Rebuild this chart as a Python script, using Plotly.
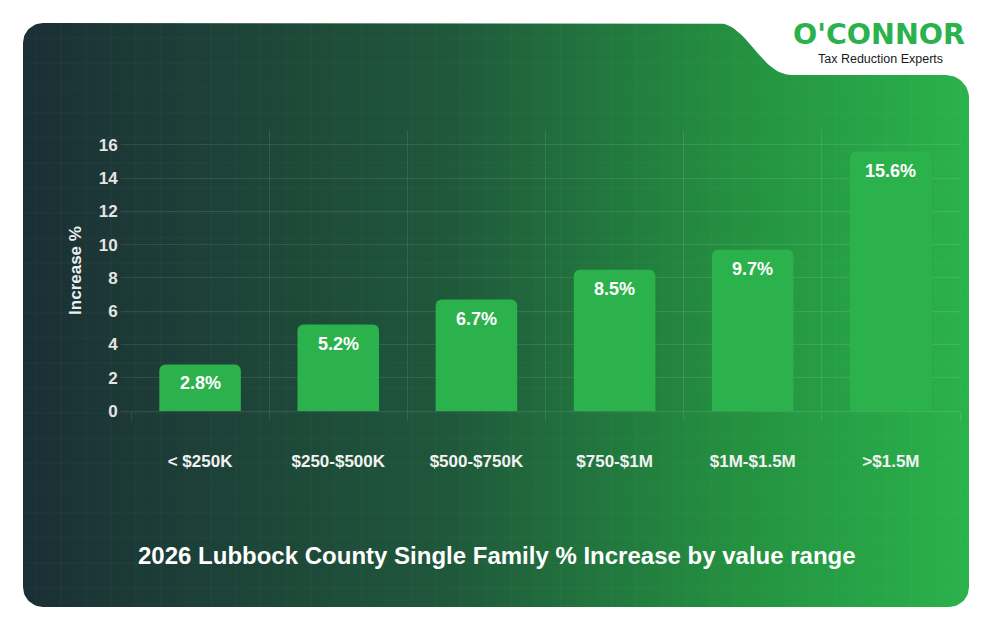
import numpy as np
import plotly.graph_objects as go

# ---- data ----
categories = ["< $250K", "$250-$500K", "$500-$750K", "$750-$1M", "$1M-$1.5M", ">$1.5M"]
increase_pct = [2.8, 5.2, 6.7, 8.5, 9.7, 15.6]
bar_labels = ["2.8%", "5.2%", "6.7%", "8.5%", "9.7%", "15.6%"]
y_ticks = [0, 2, 4, 6, 8, 10, 12, 14, 16]
title_text = "2026 Lubbock County Single Family % Increase by value range"
y_title = "Increase %"

W, H = 994, 632
FONT = "Liberation Sans, Arial, sans-serif"


# ---- decorative card outline (page pixel coords) ----
def arc(cx, cy, r, a0, a1, n=16):
    t = np.linspace(np.radians(a0), np.radians(a1), n)
    return list(cx + r * np.cos(t)), list(cy + r * np.sin(t))


def bez(p0, p1, p2, p3, n=30):
    t = np.linspace(0, 1, n)
    x = (1 - t) ** 3 * p0[0] + 3 * (1 - t) ** 2 * t * p1[0] + 3 * (1 - t) * t ** 2 * p2[0] + t ** 3 * p3[0]
    y = (1 - t) ** 3 * p0[1] + 3 * (1 - t) ** 2 * t * p1[1] + 3 * (1 - t) * t ** 2 * p2[1] + t ** 3 * p3[1]
    return list(x), list(y)


L, T, R, B, r = 23, 23, 969, 607, 20
NY, R2 = 75, 23
px, py = [], []
def add(seg):
    px.extend(seg[0]); py.extend(seg[1])

add(([L + r, 717], [T, T]))
add(bez((717, T), (748, T), (760, NY), (792, NY)))
add(([R - R2], [NY]))
add(arc(R - R2, NY + R2, R2, -90, 0))
add(([R], [B - r]))
add(arc(R - r, B - r, r, 0, 90))
add(([L + r], [B]))
add(arc(L + r, B - r, r, 90, 180))
add(([L], [T + r]))
add(arc(L + r, T + r, r, 180, 270))

fig = go.Figure()
fig.add_trace(go.Scatter(
    x=px, y=py, mode="lines", fill="toself", line=dict(width=0),
    fillgradient=dict(type="horizontal", colorscale=[
        [0.0, "#1b2f35"], [0.45, "#1f583b"], [0.75, "#249040"], [1.0, "#2ab24c"]]),
    hoverinfo="skip", showlegend=False, xaxis="x", yaxis="y"))

# faint background grid
gx, gy = [], []
for v in np.arange(36, R, 25):
    gx += [v, v, None]; gy += [T, B, None]
for v in np.arange(38, B, 25):
    gx += [L, R, None]; gy += [v, v, None]
fig.add_trace(go.Scatter(x=gx, y=gy, mode="lines",
                         line=dict(color="rgba(255,255,255,0.035)", width=1),
                         hoverinfo="skip", showlegend=False, xaxis="x", yaxis="y"))

# ---- bars ----
fig.add_trace(go.Bar(
    x=categories, y=increase_pct, width=0.59,
    marker=dict(color="#2cb24c", cornerradius=6, line=dict(width=0)),
    showlegend=False, xaxis="x2", yaxis="y2", hoverinfo="skip"))

for c, v, t in zip(categories, increase_pct, bar_labels):
    fig.add_annotation(x=c, y=v, xref="x2", yref="y2", text=t, showarrow=False,
                       yanchor="top", yshift=-7,
                       font=dict(family=FONT, size=18, color="white", weight="bold"))

grid = "rgba(255,255,255,0.10)"
fig.update_layout(
    width=W, height=H,
    margin=dict(l=0, r=0, t=0, b=0),
    paper_bgcolor="white", plot_bgcolor="rgba(0,0,0,0)",
    xaxis=dict(domain=[0, 1], range=[0, W], visible=False, fixedrange=True),
    yaxis=dict(domain=[0, 1], range=[H, 0], visible=False, fixedrange=True),
    xaxis2=dict(domain=[131 / W, 960 / W], anchor="y2", type="category",
                range=[-0.5, 5.5], tickson="boundaries", showgrid=True, gridcolor=grid,
                ticks="outside", ticklen=9, tickcolor=grid, showline=False, zeroline=False,
                ticklabelstandoff=38, automargin=False,
                tickfont=dict(family=FONT, size=17, color="#f2f2f2", weight="bold")),
    yaxis2=dict(domain=[1 - 411 / H, 1 - 130 / H], anchor="x2",
                range=[0, 16.9], tickvals=y_ticks, showgrid=True, gridcolor=grid,
                zeroline=True, zerolinecolor=grid, zerolinewidth=1,
                ticks="outside", ticklen=9, tickcolor=grid, showline=False,
                automargin=False,
                tickfont=dict(family=FONT, size=17, color="#e4e4e4", weight="bold"),
                title=dict(text=y_title, standoff=12,
                           font=dict(family=FONT, size=17, color="#eeeeee", weight="bold"))),
)

# bottom title
fig.add_annotation(x=497 / W, y=1 - 555 / H, xref="paper", yref="paper", text=title_text,
                   showarrow=False, xanchor="center", yanchor="middle",
                   font=dict(family=FONT, size=24, color="white", weight="bold"))

# logo
fig.add_annotation(x=879 / W, y=1 - 35 / H, xref="paper", yref="paper", text="O'CONNOR",
                   showarrow=False, xanchor="center", yanchor="middle",
                   font=dict(family="DejaVu Sans, sans-serif", size=28.5,
                             color="#2bb24c", weight="bold"))
fig.add_annotation(x=880 / W, y=1 - 59.5 / H, xref="paper", yref="paper",
                   text="Tax Reduction Experts",
                   showarrow=False, xanchor="center", yanchor="middle",
                   font=dict(family=FONT, size=12.5, color="#1a1a1a"))

fig.write_html("out.html")
